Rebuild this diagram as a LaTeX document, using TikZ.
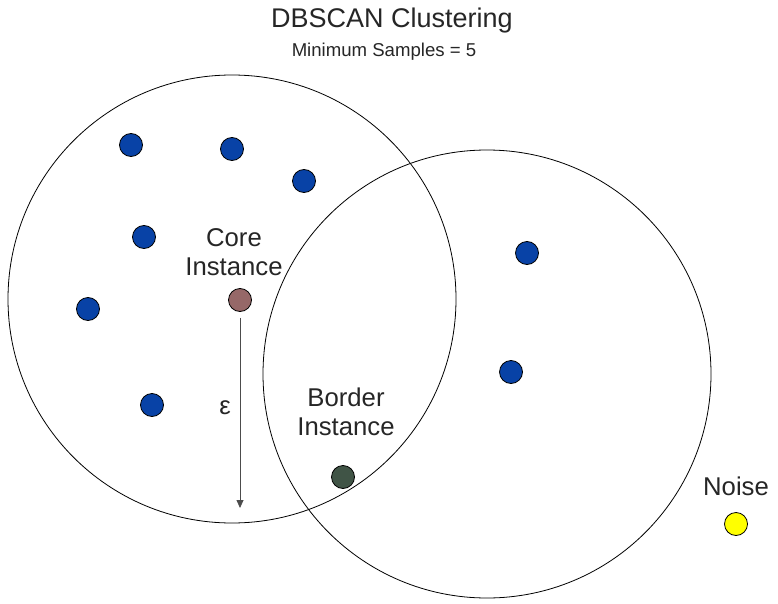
\documentclass[tikz,border=0pt]{standalone}
\usepackage{fontspec}
\setmainfont{Liberation Sans}
\usetikzlibrary{arrows.meta}
\definecolor{ptblue}{RGB}{8,66,166}
\definecolor{ptcore}{RGB}{150,104,104}
\definecolor{ptborder}{RGB}{64,84,70}
\definecolor{ptnoise}{RGB}{255,255,0}
\begin{document}
\begin{tikzpicture}[x=1pt,y=-1pt,
  pt/.style={circle, draw=black, line width=0.8pt, minimum size=23pt, inner sep=0pt},
  lbl/.style={font=\fontsize{25.7}{29}\selectfont, text=black!85, inner sep=0pt, align=center}]
\useasboundingbox (0,0) rectangle (778,604);
% titles
\node (title) at (392,21) [inner sep=0pt, font=\fontsize{27}{30}\selectfont, text=black!85] {DBSCAN Clustering};
\node (sub) at (384,52) [inner sep=0pt, font=\fontsize{18.6}{21}\selectfont, text=black!85] {Minimum Samples = 5};
% neighbourhoods
\draw[line width=0.8pt] (232,299) circle (224);
\draw[line width=0.8pt] (487,374) circle (224);
% points
\node (p1) at (131,145) [pt, fill=ptblue]{};
\node (p2) at (232,149) [pt, fill=ptblue]{};
\node (p3) at (304,181) [pt, fill=ptblue]{};
\node (p4) at (144,237) [pt, fill=ptblue]{};
\node (p5) at (88,309) [pt, fill=ptblue]{};
\node (p6) at (152,405) [pt, fill=ptblue]{};
\node (p7) at (527,253) [pt, fill=ptblue]{};
\node (p8) at (511,372) [pt, fill=ptblue]{};
\node (core) at (240,300) [pt, fill=ptcore]{};
\node (border) at (343,477) [pt, fill=ptborder]{};
\node (noise) at (736,524) [pt, fill=ptnoise]{};
% labels
\node (lcore) at (234,252) [lbl] {Core\\Instance};
\node (lborder) at (346,412) [lbl] {Border\\Instance};
\node (lnoise) at (736,486) [lbl] {Noise};
\node (leps) at (225,408) [lbl] {ε};
% radius
\coordinate (epsend) at (240,508);
\draw[-{Triangle[length=8pt,width=7pt]}, line width=0.8pt, black!70, shorten <=6pt] (core.south) -- (epsend);
\end{tikzpicture}
\end{document}
